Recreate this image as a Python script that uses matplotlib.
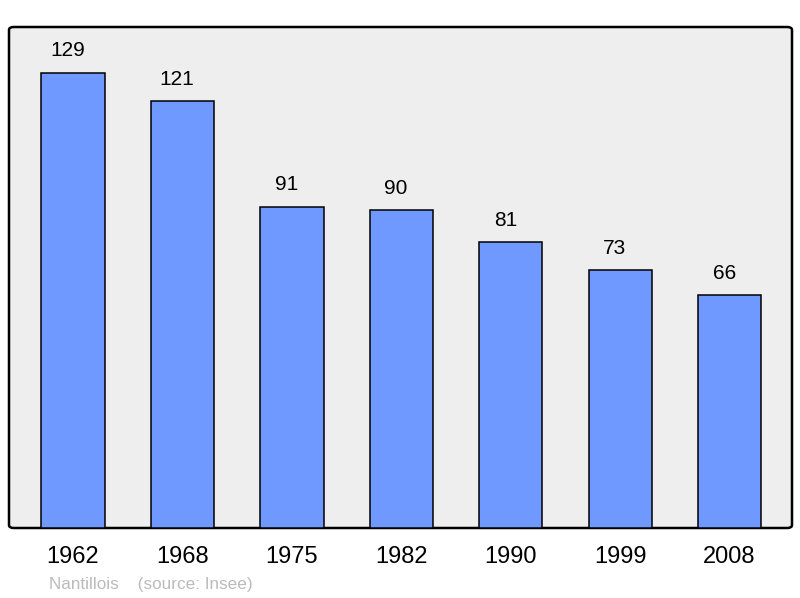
import matplotlib
matplotlib.use("Agg")
import matplotlib.pyplot as plt
from matplotlib.patches import FancyBboxPatch

years = ["1962", "1968", "1975", "1982", "1990", "1999", "2008"]
population = [129, 121, 91, 90, 81, 73, 66]
footer = "Nantillois    (source: Insee)"

plt.rcParams['font.family'] = ['Liberation Sans', 'DejaVu Sans']

fig = plt.figure(figsize=(8, 5.98), dpi=100)
ax = fig.add_axes([9/800, 70/598, 783/800, 501/598])
ax.set_facecolor('none')
for s in ax.spines.values():
    s.set_visible(False)

bg = FancyBboxPatch((0, 0), 1, 1, boxstyle="round,pad=0,rounding_size=0.006",
                    transform=ax.transAxes, facecolor='#EEEEEE', edgecolor='black',
                    linewidth=1.8, zorder=0, clip_on=False)
ax.add_patch(bg)

x = list(range(len(years)))
bars = ax.bar(x, population, width=0.578, color='#7099FF', edgecolor='black',
              linewidth=1.1, zorder=2)
for xi, v in zip(x, population):
    ax.annotate(str(v), (xi, v), xytext=(-3.8, 15.8), textcoords='offset points',
                ha='center', va='center', fontsize=15, color='black')

ax.set_xlim(-0.585, 6.57)
ax.set_ylim(0, 142)
ax.set_yticks([])
ax.set_xticks(x)
ax.set_xticklabels(years, fontsize=17)
ax.tick_params(axis='x', length=0, pad=13)

fig.text(49/800, 1 - 584/598, footer, fontsize=12.3, color='#BBBBBB',
         ha='left', va='center')

fig.savefig('out.png', dpi=100)
